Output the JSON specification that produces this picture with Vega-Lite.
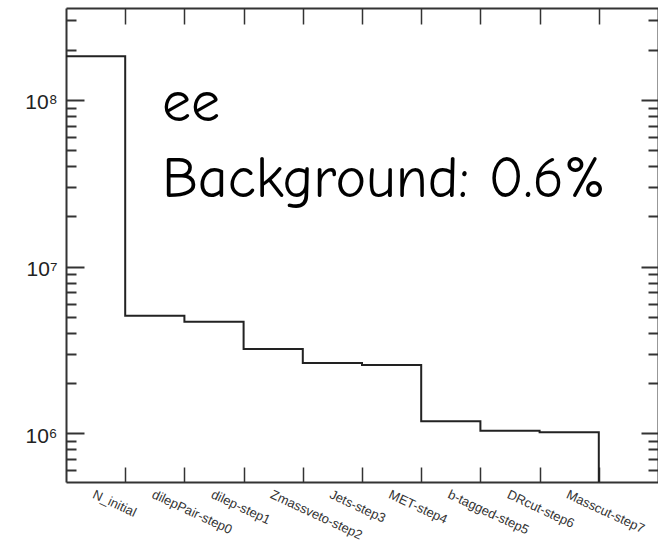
{
  "$schema": "https://vega.github.io/schema/vega-lite/v6.json",
  "autosize": {"type": "none"},
  "padding": {"left": 66, "top": 8, "right": 0, "bottom": 61},
  "width": 592,
  "height": 474,
  "background": "white",
  "config": {"view": {"stroke": null}},
  "datasets": {
    "cutflow": [
      {"bin": 0, "label": "N_initial", "events": 183000000},
      {"bin": 1, "label": "dilepPair-step0", "events": 5070000},
      {"bin": 2, "label": "dilep-step1", "events": 4670000},
      {"bin": 3, "label": "Zmassveto-step2", "events": 3200000},
      {"bin": 4, "label": "Jets-step3", "events": 2640000},
      {"bin": 5, "label": "MET-step4", "events": 2570000},
      {"bin": 6, "label": "b-tagged-step5", "events": 1180000},
      {"bin": 7, "label": "DRcut-step6", "events": 1036000},
      {"bin": 8, "label": "Masscut-step7", "events": 1014000},
      {"bin": 9, "label": "", "events": 1}
    ],
    "notes": [
      {"text": "ee", "pos": 1.62, "val": 74500000},
      {"text": "Background: 0.6%", "pos": 1.62, "val": 26300000}
    ]
  },
  "resolve": {"axis": {"x": "independent", "y": "independent"}},
  "layer": [
    {
      "data": {"name": "cutflow"},
      "mark": {"type": "line", "interpolate": "step-after", "color": "#222222", "strokeWidth": 2, "clip": true},
      "encoding": {
        "x": {"field": "bin", "type": "quantitative", "scale": {"domain": [0, 10], "nice": false, "zero": false},
          "axis": {"orient": "bottom", "values": [1, 2, 3, 4, 5, 6, 7, 8, 9], "labels": false, "title": null, "grid": false,
            "tickSize": -15, "tickColor": "#333333", "tickWidth": 1.5, "domainColor": "#333333", "domainWidth": 2}},
        "y": {"field": "events", "type": "quantitative", "scale": {"type": "log", "domain": [510000, 356000000], "nice": false},
          "axis": {"orient": "left", "values": [1000000, 10000000, 100000000], "ticks": false, "title": null, "grid": false,
            "labelExpr": "datum.value == 1000000 ? '10⁶' : datum.value == 10000000 ? '10⁷' : '10⁸'",
            "labelFont": "Liberation Sans", "labelFontSize": 21, "labelColor": "#222222", "labelPadding": 9, "labelOffset": 3,
            "domainColor": "#333333", "domainWidth": 2}}
      }
    },
    {
      "data": {"name": "cutflow"},
      "mark": {"type": "point", "opacity": 0},
      "encoding": {
        "x": {"field": "bin", "type": "quantitative", "scale": {"domain": [0, 10], "nice": false, "zero": false},
          "axis": {"orient": "bottom", "values": [0.5, 1.5, 2.5, 3.5, 4.5, 5.5, 6.5, 7.5, 8.5], "ticks": false, "domain": false, "title": null, "grid": false,
            "labelExpr": "['N_initial','dilepPair-step0','dilep-step1','Zmassveto-step2','Jets-step3','MET-step4','b-tagged-step5','DRcut-step6','Masscut-step7'][floor(datum.value)]",
            "labelAngle": 25, "labelAlign": "left", "labelBaseline": "top", "labelPadding": 6, "labelOverlap": false, "labelBound": false,
            "labelFont": "Liberation Sans", "labelFontSize": 13, "labelColor": "#333333"}},
        "y": {"field": "events", "type": "quantitative", "scale": {"type": "log", "domain": [510000, 356000000], "nice": false},
          "axis": {"orient": "left", "values": [1000000, 10000000, 100000000], "labels": false, "domain": false, "title": null, "grid": false,
            "tickSize": -18, "tickColor": "#333333", "tickWidth": 2}}
      }
    },
    {
      "data": {"name": "cutflow"},
      "mark": {"type": "point", "opacity": 0},
      "encoding": {
        "x": {"field": "bin", "type": "quantitative", "scale": {"domain": [0, 10], "nice": false, "zero": false},
          "axis": {"orient": "top", "values": [1, 2, 3, 4, 5, 6, 7, 8, 9], "labels": false, "title": null, "grid": false,
            "tickSize": -16, "tickColor": "#333333", "tickWidth": 1.5, "domainColor": "#333333", "domainWidth": 2}},
        "y": {"field": "events", "type": "quantitative", "scale": {"type": "log", "domain": [510000, 356000000], "nice": false},
          "axis": {"orient": "left", "values": [600000, 700000, 800000, 900000, 2000000, 3000000, 4000000, 5000000, 6000000, 7000000, 8000000, 9000000, 20000000, 30000000, 40000000, 50000000, 60000000, 70000000, 80000000, 90000000, 200000000, 300000000],
            "labels": false, "domain": false, "title": null, "grid": false,
            "tickSize": -10, "tickColor": "#333333", "tickWidth": 2}}
      }
    },
    {
      "data": {"name": "cutflow"},
      "mark": {"type": "point", "opacity": 0},
      "encoding": {
        "x": {"field": "bin", "type": "quantitative", "scale": {"domain": [0, 10], "nice": false, "zero": false}, "axis": null},
        "y": {"field": "events", "type": "quantitative", "scale": {"type": "log", "domain": [510000, 356000000], "nice": false},
          "axis": {"orient": "right", "values": [1000000, 10000000, 100000000], "labels": false, "title": null, "grid": false,
            "tickSize": -17, "tickColor": "#333333", "tickWidth": 2, "domainColor": "#333333", "domainWidth": 2}}
      }
    },
    {
      "data": {"name": "cutflow"},
      "mark": {"type": "point", "opacity": 0},
      "encoding": {
        "x": {"field": "bin", "type": "quantitative", "scale": {"domain": [0, 10], "nice": false, "zero": false}, "axis": null},
        "y": {"field": "events", "type": "quantitative", "scale": {"type": "log", "domain": [510000, 356000000], "nice": false},
          "axis": {"orient": "right", "values": [600000, 700000, 800000, 900000, 2000000, 3000000, 4000000, 5000000, 6000000, 7000000, 8000000, 9000000, 20000000, 30000000, 40000000, 50000000, 60000000, 70000000, 80000000, 90000000, 200000000, 300000000],
            "labels": false, "domain": false, "title": null, "grid": false,
            "tickSize": -10, "tickColor": "#333333", "tickWidth": 2}}
      }
    },
    {
      "data": {"name": "notes"},
      "mark": {"type": "text", "align": "left", "baseline": "alphabetic", "font": "Comic Sans MS, Comic Neue, Open Sans", "fontSize": 58, "color": "black"},
      "encoding": {
        "x": {"field": "pos", "type": "quantitative", "scale": {"domain": [0, 10], "nice": false, "zero": false}, "axis": null},
        "y": {"field": "val", "type": "quantitative", "scale": {"type": "log", "domain": [510000, 356000000], "nice": false}, "axis": null},
        "text": {"field": "text"}
      }
    }
  ]
}
